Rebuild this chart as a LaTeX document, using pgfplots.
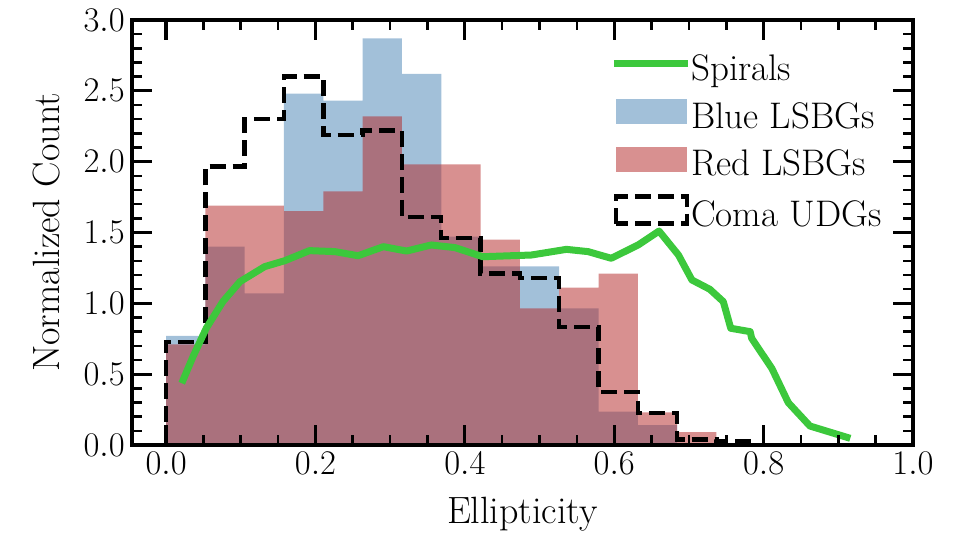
\documentclass[border=0pt]{standalone}
\usepackage{pgfplots}
\pgfplotsset{compat=1.18}
\definecolor{bluehist}{RGB}{70,130,180}
\definecolor{redhist}{RGB}{178,34,34}
\definecolor{spiral}{RGB}{60,200,60}

% key images: a short line, a filled patch and an outlined box
\pgfplotsset{
  linelegend/.style={legend image code/.code={%
    \path[draw=none, fill=none] (0pt,0pt) rectangle (37.5pt,0.1pt);
    \draw[##1] (-1pt,4pt) -- (36pt,4pt);}},
  filllegend/.style={legend image code/.code={%
    \path[draw=none, fill=none] (0pt,0pt) rectangle (37.5pt,0.1pt);
    \fill[##1, draw=none] (0pt,-2.5pt) rectangle (35.5pt,10pt);}},
  boxlegend/.style={legend image code/.code={%
    \path[draw=none, fill=none] (0pt,0pt) rectangle (37.5pt,0.1pt);
    \draw[##1] (0pt,-3pt) rectangle (35.5pt,10.5pt);}},
}

\begin{document}
\begin{tikzpicture}
\begin{axis}[
  name=ax,
  scale only axis,
  width=390.65pt, height=212.5pt,
  xmin=-0.046, xmax=1.0, ymin=0, ymax=3.0,
  axis on top,
  xtick={0,0.2,0.4,0.6,0.8,1.0},
  ytick={0,0.5,1.0,1.5,2.0,2.5,3.0},
  minor x tick num=3, minor y tick num=4,
  xtick pos=both, ytick pos=both,
  tick align=inside,
  major tick length=10pt, minor tick length=5pt,
  major tick style={black, line width=1.6pt},
  minor tick style={black, line width=1.3pt},
  axis line style={line width=2pt},
  tick label style={font=\fontsize{17}{20}\selectfont},
  x tick label style={/pgf/number format/.cd, fixed, fixed zerofill, precision=1, /tikz/.cd},
  y tick label style={/pgf/number format/.cd, fixed, fixed zerofill, precision=1, /tikz/.cd},
  label style={font=\fontsize{19}{22}\selectfont},
  xlabel={Ellipticity},
  ylabel={Normalized Count},
  xlabel style={at={(axis description cs:0.5,-0.122)}, anchor=north, inner sep=0pt},
  ylabel style={at={(axis description cs:-0.1263,0.5)}, anchor=north, inner sep=0pt},
  legend style={draw=none, fill=none, inner sep=0pt,
    at={(axis description cs:0.612,0.9196)}, anchor=north west,
    font=\fontsize{18.5}{21}\selectfont,
    nodes={inner sep=0pt, text height=13pt, text depth=4pt},
    row sep=5.3pt},
  legend cell align=left,
]

% legend entries, listed in the order they appear in the key
\addlegendimage{linelegend, spiral, line width=3.5pt}
\addlegendentry{Spirals}
\addlegendimage{filllegend, fill=bluehist, fill opacity=0.5}
\addlegendentry{Blue LSBGs}
\addlegendimage{filllegend, fill=redhist, fill opacity=0.5}
\addlegendentry{Red LSBGs}
\addlegendimage{boxlegend, black, line width=2.2pt, dash pattern=on 8pt off 3.5pt}
\addlegendentry{Coma UDGs}

% Blue LSBGs (19 equal bins over [0,1])
\addplot[const plot, draw=none, fill=bluehist, fill opacity=0.5, forget plot]
  coordinates {
  (0.00000,0.77) (0.05263,1.40) (0.10526,1.07) (0.15789,2.48) (0.21053,2.43)
  (0.26316,2.87) (0.31579,2.62) (0.36842,1.47) (0.42105,1.26) (0.47368,1.26)
  (0.52632,0.965) (0.57895,0.235) (0.63158,0.14) (0.68421,0.01) (0.73684,0.01)
  } \closedcycle;

% Red LSBGs
\addplot[const plot, draw=none, fill=redhist, fill opacity=0.5, forget plot]
  coordinates {
  (0.00000,0.71) (0.05263,1.69) (0.10526,1.69) (0.15789,1.65) (0.21053,1.79)
  (0.26316,2.32) (0.31579,1.98) (0.36842,1.98) (0.42105,1.45) (0.47368,0.965)
  (0.52632,1.11) (0.57895,1.21) (0.63158,0.23) (0.68421,0.09) (0.73684,0.09)
  } \closedcycle;

% Coma UDGs, step outline
\addplot[const plot, black, line width=2.2pt, dash pattern=on 8pt off 3.5pt, forget plot]
  coordinates {
  (0.00000,0) (0.00000,0.725) (0.05263,1.965) (0.10526,2.30) (0.15789,2.60)
  (0.21053,2.19) (0.26316,2.22) (0.31579,1.61) (0.36842,1.46) (0.42105,1.21)
  (0.47368,1.18) (0.52632,0.835) (0.57895,0.376) (0.63158,0.225) (0.68421,0.04)
  (0.73684,0.025) (0.78947,0.025) (0.78947,0)
  };

% Spirals
\addplot[spiral, line width=3.5pt, line join=round, forget plot]
  coordinates {
  (0.021,0.436) (0.036,0.623) (0.054,0.826) (0.076,1.012) (0.099,1.153)
  (0.132,1.259) (0.159,1.301) (0.192,1.372) (0.226,1.365) (0.257,1.336)
  (0.291,1.400) (0.322,1.369) (0.355,1.412) (0.387,1.393) (0.424,1.329)
  (0.489,1.341) (0.536,1.381) (0.565,1.365) (0.596,1.318) (0.632,1.412)
  (0.660,1.510) (0.686,1.341) (0.704,1.165) (0.728,1.099) (0.746,1.012)
  (0.756,0.824) (0.782,0.800) (0.784,0.753) (0.811,0.541) (0.833,0.299)
  (0.862,0.134) (0.916,0.047)
  };
\end{axis}
\path ([shift={(-65.85pt,-44pt)}]ax.south west) rectangle ([shift={(26.5pt,10pt)}]ax.north east);
\end{tikzpicture}
\end{document}
